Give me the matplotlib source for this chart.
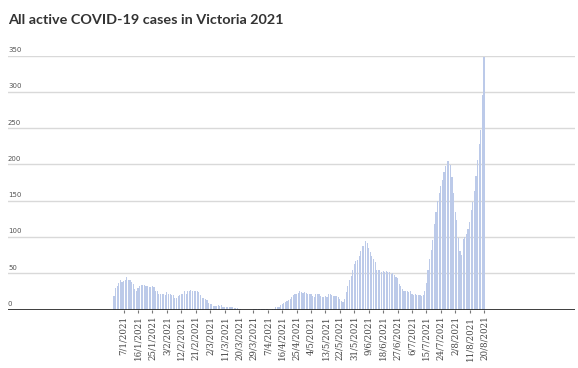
import matplotlib
matplotlib.use('Agg')
import matplotlib.pyplot as plt
import numpy as np
import pandas as pd
from matplotlib.transforms import offset_copy

title = "All active COVID-19 cases in Victoria 2021"
start_date = "2021-01-01"
active_cases = [
    18, 29, 33, 36, 40, 38, 39, 40, 45, 41,
    40, 38, 35, 28, 26, 29, 32, 34, 34, 34,
    32, 33, 31, 31, 32, 31, 26, 26, 21, 21,
    22, 22, 20, 24, 22, 22,
    20, 20, 16, 16, 18, 20, 22, 22, 25, 22,
    25, 25, 27, 26, 25, 25, 25, 24, 20, 16,
    16, 15, 13, 9, 8, 7, 5, 5, 5, 6,
    5, 6, 4, 4, 3, 3, 3, 3, 3, 2,
    2, 2, 1, 1, 0, 0, 0, 0, 0, 0, 0,
    1, 1, 1, 1, 1, 1, 1, 1, 1, 1,
    0, 0, 1, 1, 3, 3, 4, 6, 8, 9,
    10, 12, 13, 15, 17, 20, 22, 22, 23, 26,
    24, 23, 24, 23, 21, 21, 21, 18, 17, 21,
    22, 21, 18, 17, 17, 18, 17, 22, 22, 20,
    18, 18, 18, 17, 15, 12, 10, 14, 24, 33, 40,
    46, 54, 63, 67, 68, 74, 81, 87, 88, 94,
    91, 85, 79, 74, 70, 65, 55, 55, 55, 51,
    53, 51, 53, 51, 51, 49, 50, 47, 45, 44,
    35, 33, 28, 26, 25, 25, 24, 25, 22, 20,
    22, 20, 20, 20, 19, 20, 26, 37, 55, 70, 82,
    96, 118, 135, 150, 161, 170, 179, 190, 198, 205,
    205, 199, 182, 160, 134, 124, 99, 80, 75, 97,
    100, 104, 111, 120, 137, 148, 163, 184, 206, 228,
    247, 296, 348,
]
y_ticks = [0, 50, 100, 150, 200, 250, 300, 350]
label_start = 6
label_every = 9

dates = pd.date_range(start_date, periods=len(active_cases), freq='D')
x = np.arange(len(active_cases))

W, H = 578, 368
fig = plt.figure(figsize=(W / 100, H / 100), dpi=100)
ax = fig.add_axes([8 / W, (H - 309.5) / H, (575 - 8) / W, (309.5 - 55.5) / H])
ax.bar(x, active_cases, width=0.72, color='#bccae9', linewidth=0, zorder=2)
ax.set_ylim(0, 350)
ax.set_xlim(-66.2, 287.8)
for v in y_ticks[1:]:
    ax.axhline(v, color='#d9d9d9', lw=1, zorder=1)
ax.axhline(0, color='#2b2b2b', lw=2, zorder=3)
for s in ax.spines.values():
    s.set_visible(False)
ax.set_yticks([])

tick_idx = x[label_start::label_every]
ax.set_xticks(tick_idx)
ax.set_xticklabels([f"{d.day}/{d.month}/{d.year}" for d in dates[label_start::label_every]],
                   rotation=90, fontsize=6.2, family='DejaVu Serif', color='#444444')
ax.tick_params(axis='x', length=2, width=0.8, color='#777777', pad=2.5)

trans = offset_copy(ax.get_yaxis_transform(), fig=fig, x=0, y=2.5, units='dots')
for v in y_ticks:
    ax.text(0, v, str(v), transform=trans, ha='left', va='bottom',
            fontsize=5, color='#555555', family='DejaVu Sans')

fig.text(8 / W, 1 - 20 / H, title, fontsize=10.4, fontweight='bold', family='Lato',
         color='#333333', va='center', ha='left')
fig.savefig('out.png', dpi=100)
